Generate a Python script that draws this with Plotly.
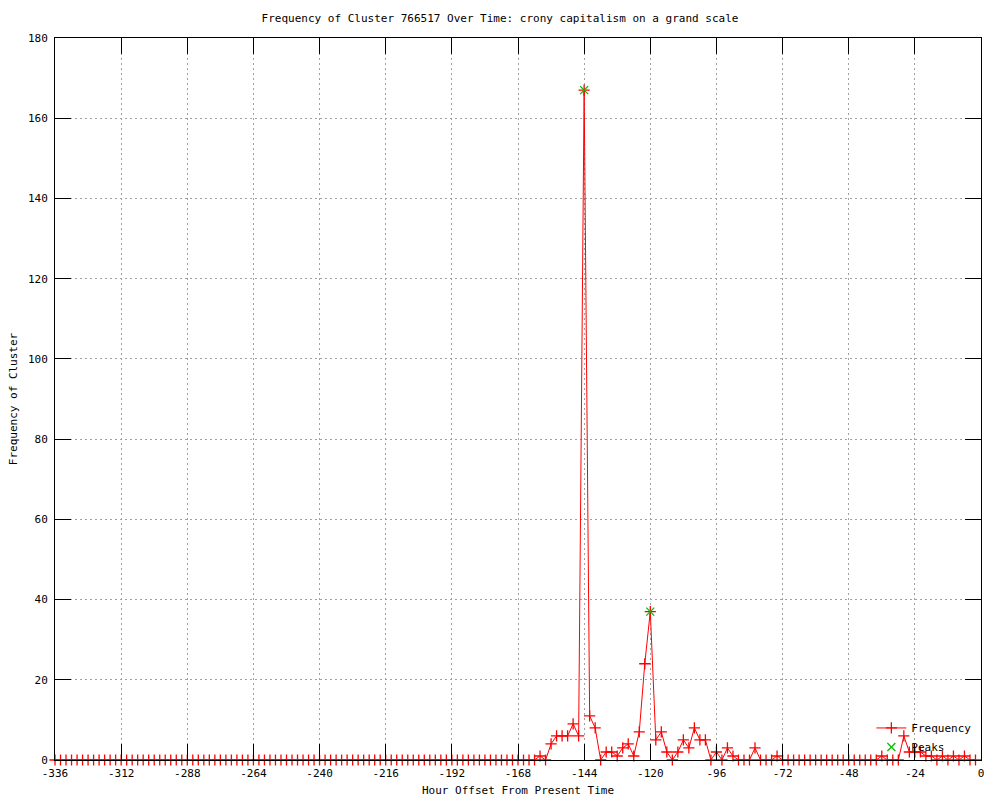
import plotly.graph_objects as go

# ---- data ----
hours = list(range(-336, 0, 2))  # -336 ... -2, every 2 hours
frequency = (
    [0] * 84  # -336 .. -170
    + [0, 0, 0, 0, 1, 0, 4, 6, 6, 6, 9, 6, 167, 11, 8, 0, 2, 2, 1, 3, 4, 1, 7, 24,
       37, 5, 7, 2, 0, 2, 5, 3, 8, 5, 5, 0, 2, 0, 3, 1, 0, 0, 0, 3, 0, 0, 0, 1]  # -168 .. -74
    + [0] * 18  # -72 .. -38
    + [1, 0, 0, 0, 6, 2, 2, 2, 1, 1, 0, 1, 0, 1, 0, 1, 0, 0]  # -36 .. -2
)
peak_hours = [-144, -120]
peak_values = [167, 37]

x_ticks = list(range(-336, 1, 24))
y_ticks = list(range(0, 181, 20))

title_text = "Frequency of Cluster 766517 Over Time: crony capitalism on a grand scale"
x_title = "Hour Offset From Present Time"
y_title = "Frequency of Cluster"

FONT = "DejaVu Sans Mono"

fig = go.Figure()
fig.add_trace(go.Scatter(
    x=hours, y=frequency, mode="lines+markers", name="Frequency",
    line=dict(color="#ff0000", width=1),
    marker=dict(symbol="cross-thin", size=8, color="#ff0000",
                line=dict(color="#ff0000", width=1.3)),
    cliponaxis=False,
))
fig.add_trace(go.Scatter(
    x=peak_hours, y=peak_values, mode="markers", name="Peaks",
    marker=dict(symbol="x-thin", size=8, color="#00c000",
                line=dict(color="#00c000", width=1.3)),
    cliponaxis=False,
))

axis_common = dict(
    showline=True, linecolor="black", linewidth=1, mirror="ticks",
    ticks="inside", ticklen=16, tickwidth=1, tickcolor="black",
    showgrid=True, gridcolor="#a0a0a0", griddash="2px,3px", gridwidth=1,
    zeroline=False, automargin=False,
    tickfont=dict(family=FONT, size=11, color="black"),
)

fig.update_xaxes(
    range=[-336, 0], tickmode="array", tickvals=x_ticks,
    ticktext=[str(v) for v in x_ticks], ticklabelstandoff=3,
    title=dict(text=x_title, font=dict(family=FONT, size=11, color="black"), standoff=7),
    **axis_common,
)
fig.update_yaxes(
    range=[0, 180], tickmode="array", tickvals=y_ticks,
    ticktext=[str(v) for v in y_ticks], ticklabelstandoff=4,
    title=dict(text=y_title, font=dict(family=FONT, size=11, color="black"), standoff=8),
    **axis_common,
)

fig.update_layout(
    width=1000, height=800,
    margin=dict(l=55, r=19, t=38, b=40, autoexpand=False),
    paper_bgcolor="white", plot_bgcolor="white",
    title=dict(text=title_text, x=0.5, xanchor="center", y=1 - 18 / 800, yanchor="middle",
               font=dict(family=FONT, size=11, color="black")),
    font=dict(family=FONT, size=11, color="black"),
    legend=dict(x=0.995, xanchor="right", y=-0.002, yanchor="bottom",
                bgcolor="rgba(0,0,0,0)", borderwidth=0,
                font=dict(family=FONT, size=11, color="black"),
                tracegroupgap=0, itemwidth=30),
    showlegend=True,
)

fig.write_html("out.html", post_script="document.body.style.margin='0px';",
               config={"displayModeBar": False})
